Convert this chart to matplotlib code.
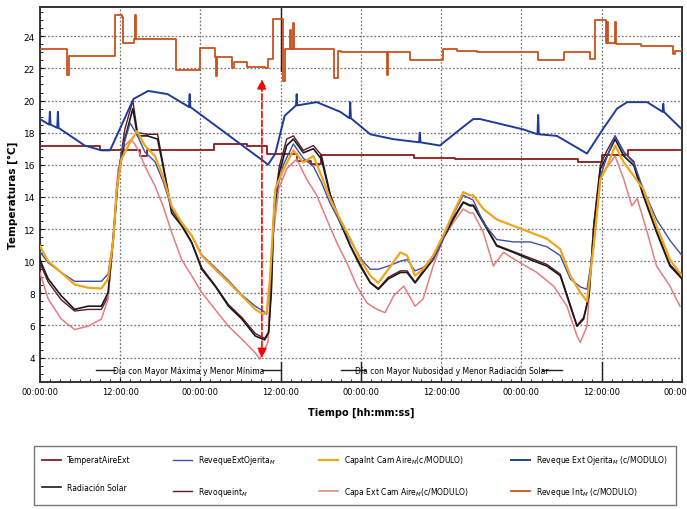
import matplotlib.pyplot as plt
import numpy as np

plt.rcParams["font.family"] = ["DejaVu Sans"]

# time in hours from start (4 days), values in degC
t_rint = [0, 4, 4.1, 4.3, 9.7, 11.2, 12.3, 12.4, 14.1, 14.2, 14.4, 18.7, 20.4, 24, 26.2, 26.3, 26.5,
          28.7, 28.8, 29.0, 31, 33.7, 34.1, 34.9, 36.1, 36.3, 36.6, 37.3, 37.4, 37.6, 37.8, 38.0,
          43.8, 44.0, 44.6, 45, 51.8, 51.9, 52.1, 55.3, 59.5, 60.2, 62.3, 65.3, 74.5, 78.3, 82.3,
          83.0, 84.2, 84.7, 84.8, 85.0, 85.9, 86.0, 86.2, 89.8, 94.6, 94.7, 94.9, 96]
v_rint = [23.2, 23.2, 21.6, 22.8, 22.8, 25.3, 25.2, 23.6, 23.8, 25.3, 23.8, 23.8, 21.9, 23.3, 22.7, 21.5, 22.7,
          22.5, 22.0, 22.4, 22.1, 22.0, 22.6, 25.1, 25.1, 21.2, 23.2, 23.2, 24.4, 23.2, 24.8, 23.2,
          23.2, 21.4, 23.1, 23.0, 23.0, 21.6, 23.0, 22.5, 22.5, 23.2, 23.1, 23.0, 22.5, 23.0, 22.6,
          25.0, 25.0, 23.6, 24.9, 23.6, 23.6, 24.9, 23.5, 23.4, 23.1, 22.9, 23.1, 23.3]

t_rext = [0, 1.4, 1.5, 1.6, 2.6, 2.7, 2.8, 6.7, 9.2, 10.5, 14, 16.2, 19.1, 22.3, 22.4, 22.5, 33.7, 34.1,
          35.2, 36.6, 38.3, 38.4, 38.5, 41.4, 44.9, 46.3, 46.4, 46.5, 49.4, 52.8, 56.7, 56.8, 56.9,
          59.8, 62.8, 64.8, 65.8, 69.3, 72.3, 74.4, 74.5, 74.6, 77.3, 81.8, 84.3, 86.3, 87.8, 90.8,
          93.1, 93.2, 93.3, 96]
v_rext = [18.85, 18.5, 19.3, 18.5, 18.3, 19.3, 18.3, 17.2, 16.9, 16.9, 20.1, 20.6, 20.4, 19.6, 20.4, 19.6,
          16.15, 16.0, 16.7, 19.05, 19.7, 20.4, 19.7, 19.9, 19.3, 18.9, 19.9, 18.9, 17.9, 17.6, 17.4,
          18.0, 17.4, 17.2, 18.2, 18.85, 18.85, 18.5, 18.2, 17.9, 19.1, 17.9, 17.8, 16.7, 18.3, 19.5,
          19.9, 19.9, 19.3, 19.8, 19.3, 18.2]

t_aire = [0, 9, 15, 16, 26, 31, 34, 38.4, 40.5, 42, 56, 62, 70, 80.5, 84, 88, 96]
v_aire = [17.2, 16.9, 16.55, 16.9, 17.3, 17.2, 16.65, 16.25, 16.05, 16.6, 16.45, 16.35, 16.35, 16.2,
          16.6, 16.9, 16.9]

t_cold = [0, 1.25, 3.2, 5.2, 7.2, 9.2, 10.2, 11, 11.5, 12.2, 13.5, 14.5, 15.7, 17.2, 18.4, 19.7, 21.2,
          22.7, 24.2, 26.2, 28.2, 30.2, 32.2, 33.4, 33.9, 34.4, 35.2, 36.4, 37.9, 39.4, 40.9, 42.1, 43.4,
          44.9, 46.4, 47.9, 49.4, 50.6, 52.1, 53.9, 54.9, 56.1, 57.3, 58.8, 60.3, 61.8, 63.3, 64.3, 64.8,
          66.3, 68.3, 70.8, 73.3, 75.8, 77.8, 79.3, 80.8, 81.8, 82.8, 83.8, 84.8, 86.0, 87.3, 88.8, 90.2,
          92.2, 94.2, 96]
v_cint = [10.95, 10.0, 9.3, 8.55, 8.35, 8.3, 8.9, 11.4, 14.5, 16.35, 17.4, 18.1, 17.2, 16.55, 15.3, 13.45,
          12.4, 11.6, 10.35, 9.5, 8.7, 7.85, 7.0, 6.7, 6.8, 8.9, 14.5, 15.7, 16.9, 16.15, 16.55, 15.3, 13.9,
          12.6, 11.4, 10.1, 9.1, 8.65, 9.5, 10.55, 10.35, 9.1, 9.5, 10.35, 11.6, 13.0, 14.3, 14.1, 14.1,
          13.25, 12.6, 12.2, 11.8, 11.4, 10.75, 9.1, 8.05, 7.5, 10.95, 15.1, 15.9, 17.2, 16.15, 15.3, 14.5,
          12.2, 10.1, 9.1]
v_roj = [10.6, 9.9, 9.3, 8.75, 8.75, 8.75, 9.2, 11.4, 14.6, 16.8, 18.6, 17.9, 16.8, 16.2, 15.0, 13.3,
         12.4, 11.6, 10.4, 9.6, 8.8, 7.9, 7.2, 6.9, 6.7, 8.6, 14.0, 16.0, 17.3, 16.4, 15.9, 14.9, 13.6,
         12.4, 11.3, 10.2, 9.5, 9.5, 9.7, 10.0, 10.1, 9.4, 9.6, 10.1, 11.4, 12.9, 14.1, 13.9, 13.8,
         12.4, 11.35, 11.2, 11.2, 10.9, 10.35, 8.9, 8.4, 8.25, 11.0, 15.3, 16.5, 17.8, 16.8, 16.1, 14.5,
         12.6, 11.3, 10.35]

t_rad = [0, 1.25, 3.2, 5.2, 7.2, 9.2, 10.2, 11, 11.7, 12.7, 13.9, 14.6, 16.1, 17.6, 18.4, 19.7, 21.2,
         22.7, 24.2, 26.2, 28.2, 30.2, 32.2, 33.6, 34.2, 34.6, 35.0, 35.8, 36.9, 37.9, 39.4, 40.9, 42.1,
         43.4, 44.9, 46.4, 47.9, 49.4, 50.6, 52.1, 53.9, 54.9, 56.1, 57.3, 58.8, 60.3, 61.8, 63.3, 64.3,
         64.8, 66.3, 68.3, 70.8, 73.3, 75.8, 77.8, 79.3, 80.3, 81.3, 82.1, 82.8, 83.8, 84.8, 86.0, 87.3,
         88.8, 90.2, 92.2, 94.2, 96]
v_rad = [10.1, 8.9, 7.85, 7.0, 7.2, 7.2, 8.05, 11.6, 15.1, 17.6, 19.5, 17.8, 17.8, 17.6, 15.95, 13.0,
         12.2, 11.15, 9.5, 8.45, 7.2, 6.4, 5.35, 5.1, 5.55, 8.05, 13.0, 15.5, 17.2, 17.6, 16.75, 17.0, 16.35,
         14.1, 12.4, 10.95, 9.7, 8.65, 8.25, 8.9, 9.3, 9.3, 8.65, 9.3, 10.1, 11.4, 12.6, 13.65, 13.45,
         13.45, 12.4, 10.95, 10.55, 10.1, 9.7, 9.1, 7.2, 5.95, 6.4, 7.85, 12.0, 15.75, 16.55, 17.6, 16.55,
         15.95, 14.1, 11.8, 9.7, 8.9]
v_rint_m = [9.9, 8.7, 7.6, 6.9, 7.0, 7.0, 7.8, 11.4, 15.3, 18.2, 20.0, 18.0, 17.9, 17.9, 16.1, 13.2,
            12.3, 11.2, 9.6, 8.5, 7.3, 6.5, 5.5, 5.2, 5.6, 8.3, 13.4, 15.9, 17.6, 17.8, 16.9, 17.2, 16.6,
            14.2, 12.5, 11.0, 9.8, 8.7, 8.3, 9.0, 9.4, 9.4, 8.7, 9.4, 10.2, 11.5, 12.7, 13.7, 13.5,
            13.5, 12.5, 11.0, 10.6, 10.2, 9.8, 9.2, 7.3, 6.0, 6.5, 7.9, 12.3, 16.0, 16.9, 17.8, 16.8,
            16.2, 14.2, 11.9, 9.8, 9.0]

t_cext = [0, 1.25, 3.2, 5.2, 7.2, 9.2, 10.2, 11, 11.7, 12.7, 13.7, 14.6, 15.9, 17.2, 18.4, 19.7, 21.2,
          22.7, 24.2, 26.2, 28.2, 30.2, 32.2, 32.9, 34.1, 34.7, 35.7, 36.9, 38.4, 39.9, 41.4, 42.9, 44.4,
          45.9, 47.4, 48.9, 50.4, 51.6, 52.9, 54.4, 56.1, 57.3, 58.8, 60.3, 61.8, 63.3, 64.3, 64.8, 66.3,
          67.8, 69.3, 71.8, 74.3, 76.8, 78.8, 80.3, 80.8, 81.8, 82.8, 83.8, 85.0, 86.0, 87.3, 88.5, 89.3,
          90.8, 92.2, 94.2, 95.7]
v_cext = [9.3, 7.65, 6.4, 5.75, 5.95, 6.4, 7.65, 11.8, 15.75, 17.2, 17.6, 17.0, 15.75, 14.7, 13.45, 11.8,
          10.1, 9.1, 8.05, 7.0, 5.95, 5.15, 4.3, 3.9, 4.95, 10.95, 14.5, 15.75, 16.35, 15.1, 14.1, 12.6, 11.15,
          9.9, 8.45, 7.4, 7.0, 6.8, 7.85, 8.45, 7.2, 7.65, 9.7, 11.4, 12.4, 13.25, 13.0, 13.0, 11.8,
          9.7, 10.55, 9.9, 9.3, 8.45, 7.2, 5.35, 4.95, 5.95, 12.0, 15.3, 15.95, 16.55, 15.1, 13.45, 13.9,
          11.8, 9.7, 8.45, 7.2]

tick_hours = [0, 12, 24, 36, 48, 60, 72, 84, 96]
tick_labels = ["00:00:00", "12:00:00"] * 4 + ["00:00:00"]

fig = plt.figure(figsize=(6.87, 5.10), dpi=100)
ax = fig.add_axes([0.058, 0.2496, 0.9347, 0.734])

ax.plot(t_aire, v_aire, color="#8B1A1A", lw=1.3, drawstyle="steps-post", label="TemperatAireExt", zorder=3)
ax.plot(t_rad, v_rad, color="#1A1A1A", lw=1.2, label="Radiación Solar", zorder=4)
ax.plot(t_cold, v_roj, color="#3F4FA5", lw=1.0, label="RevequeExtOjerita$_M$", zorder=4)
ax.plot(t_rad, v_rint_m, color="#5E1A28", lw=1.0, label="Revoqueint$_M$", zorder=3)
ax.plot(t_cold, v_cint, color="#EFA51C", lw=1.6, label="CapaInt Cam Aire$_M$(c/MODULO)", zorder=5)
ax.plot(t_cext, v_cext, color="#E37E7E", lw=1.1, label="Capa Ext Cam Aire$_M$(c/MODULO)", zorder=3)
ax.plot(t_rext, v_rext, color="#1F3C9A", lw=1.4, label="Reveque Ext Ojerita$_M$ (c/MODULO)", zorder=3)
ax.plot(t_rint, v_rint, color="#C9521E", lw=1.3, drawstyle="steps-post", label="Reveque Int$_M$ (c/MODULO)", zorder=3)

ax.set_xlim(0, 96)
ax.set_ylim(2.5, 25.8)
ax.set_xticks(tick_hours)
ax.set_xticklabels(tick_labels, fontsize=6)
ax.set_yticks(range(4, 25, 2))
ax.tick_params(axis="y", labelsize=6.5)
ax.set_xticks(np.arange(0, 96, 1.5), minor=True)
ax.set_yticks(np.arange(2.5, 25.8, 0.5), minor=True)
ax.tick_params(which="minor", length=2, direction="in")
ax.tick_params(which="major", length=3, direction="in")
ax.grid(True, which="major", linestyle=(0, (1.5, 1.5)), color="#777777", lw=0.9)
for s in ax.spines.values():
    s.set_linewidth(1.4)
    s.set_color("#333333")

ax.set_xlabel("Tiempo [hh:mm:ss]", fontsize=7, fontweight="bold", labelpad=8)
ax.set_ylabel("Temperaturas [°C]", fontsize=7.5, fontweight="bold", labelpad=4)

# dashed double arrow
ax.annotate("", xy=(33.2, 21.5), xytext=(33.2, 3.8),
            arrowprops=dict(arrowstyle="<|-|>", ls="--", color="red", lw=1.2, mutation_scale=14))
ax.axvline(36, ymin=0.83, ymax=1, color="#222222", lw=1.0)

# period annotations
ax.plot([8.4, 11.2], [3.2, 3.2], color="#222222", lw=1.0)
ax.text(22.3, 3.2, "Día con Mayor Máxima y Menor Mínima", fontsize=5.5, ha="center", va="center")
ax.plot([33.2, 36], [3.2, 3.2], color="#222222", lw=1.0)
ax.plot([36, 36], [2.5, 3.7], color="#222222", lw=1.0)
ax.plot([48, 48], [2.5, 3.7], color="#222222", lw=1.0)
ax.plot([45, 48.6], [3.2, 3.2], color="#222222", lw=1.0)
ax.text(61.6, 3.2, "Día con Mayor Nubosidad y Menor Radiación Solar", fontsize=5.5, ha="center", va="center")
ax.plot([75, 78], [3.2, 3.2], color="#222222", lw=1.0)
ax.plot([84, 84], [2.5, 3.7], color="#222222", lw=1.0)

handles, labels = ax.get_legend_handles_labels()
leg = fig.legend(handles, labels, ncol=4, loc="lower left", bbox_to_anchor=(0.044, 0.0, 0.946, 0.122),
                 mode="expand", fontsize=5.5, frameon=True, fancybox=False, edgecolor="#555555",
                 handlelength=2.5, borderpad=1.0, labelspacing=2.4, columnspacing=1.5)
leg.get_frame().set_linewidth(1.0)

fig.savefig("out.png", dpi=100)
